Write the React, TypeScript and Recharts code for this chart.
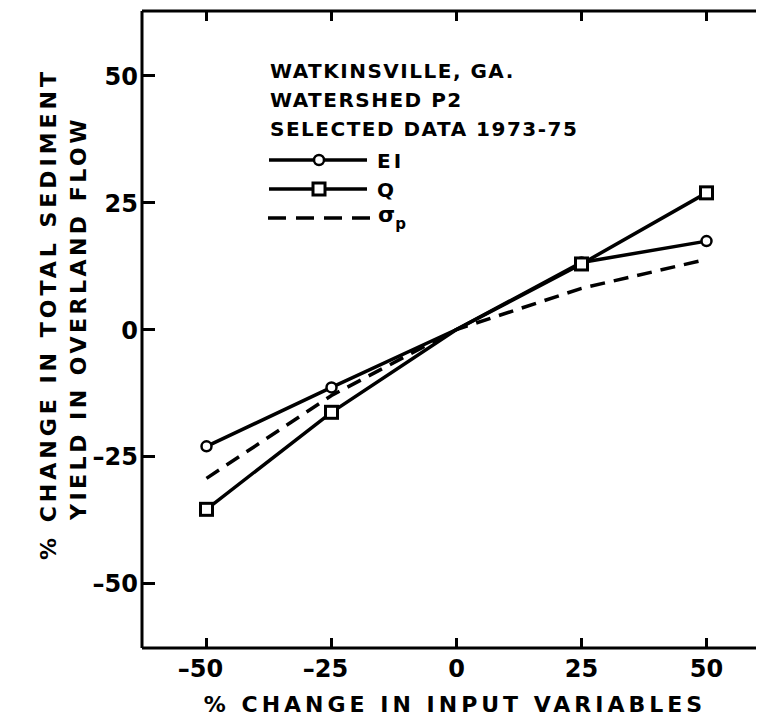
import { LineChart, Line, XAxis, YAxis } from "recharts";

const inputChange = [-50, -25, 0, 25, 50];
const eiChange = [-23, -11.4, 0, 13.2, 17.4];
const qChange = [-35.4, -16.3, 0, 12.9, 26.9];
const sigmaChange = [-29.3, -13, 0, 8.1, 13.8];
const axisTicks = [-50, -25, 0, 25, 50];

const siteLines = ["WATKINSVILLE, GA.", "WATERSHED P2", "SELECTED DATA 1973-75"];
const xTitle = "% CHANGE IN INPUT VARIABLES";
const yTitle = ["% CHANGE IN TOTAL SEDIMENT", "YIELD IN OVERLAND FLOW"];

const data = inputChange.map((x, i) => ({
  x,
  ei: eiChange[i],
  q: qChange[i],
  sigma: sigmaChange[i],
}));

const font = '"DejaVu Sans", sans-serif';
const ink = "#000";

const fmt = (v: number) => (v < 0 ? "\u2013" + Math.abs(v) : String(v));

const BottomTick = ({ x, y, payload }: any) => (
  <g>
    <path d={`M${x},${y}V${y - 10}`} stroke={ink} strokeWidth={3} />
    <text
      x={x + (payload.value < 0 ? -6 : 0)}
      y={y + 29}
      textAnchor="middle"
      fontSize={24}
      fontWeight="bold"
      fontFamily={font}
      fill={ink}
    >
      {fmt(payload.value)}
    </text>
  </g>
);

const LeftTick = ({ x, y, payload }: any) => (
  <g>
    <path d={`M${x},${y}H${x + 13}`} stroke={ink} strokeWidth={3} />
    <text
      x={x - 4}
      y={y + 9}
      textAnchor="end"
      fontSize={24}
      fontWeight="bold"
      fontFamily={font}
      fill={ink}
    >
      {fmt(payload.value)}
    </text>
  </g>
);

const TopTick = ({ x, y }: any) => (
  <path d={`M${x},${y}V${y + 10}`} stroke={ink} strokeWidth={3} />
);

// no marker at the origin, where all curves meet
const CircleDot = ({ cx, cy, index, payload }: any) =>
  payload.x === 0 ? (
    <g key={"ci" + index} />
  ) : (
    <circle key={"ci" + index} cx={cx} cy={cy} r={5} fill="#fff" stroke={ink} strokeWidth={2.5} />
  );

const SquareDot = ({ cx, cy, index, payload }: any) =>
  payload.x === 0 ? (
    <g key={"sq" + index} />
  ) : (
    <rect
      key={"sq" + index}
      x={cx - 6}
      y={cy - 6}
      width={12}
      height={12}
      fill="#fff"
      stroke={ink}
      strokeWidth={3}
    />
  );

const textStyle = { fontFamily: font, fontWeight: "bold" as const, fill: ink };

export default function App() {
  const axisLine = { stroke: ink, strokeWidth: 3 };
  return (
    <div style={{ position: "relative", width: 756, height: 715, marginBottom: -8, overflow: "hidden" }}>
      <LineChart
        width={756}
        height={700}
        data={data}
        margin={{ top: 2, right: 1, left: 0, bottom: 0 }}
      >
        <XAxis
          dataKey="x"
          type="number"
          domain={[-62.9, 61.3]}
          ticks={axisTicks}
          interval={0}
          allowDataOverflow
          height={60}
          axisLine={axisLine}
          tickLine={false}
          tickSize={0}
          tickMargin={0}
          tick={BottomTick}
        />
        <XAxis
          xAxisId="top"
          orientation="top"
          dataKey="x"
          type="number"
          domain={[-62.9, 61.3]}
          ticks={axisTicks}
          interval={0}
          allowDataOverflow
          height={1}
          axisLine={axisLine}
          tickLine={false}
          tickSize={0}
          tickMargin={0}
          tick={TopTick}
        />
        <YAxis
          type="number"
          domain={[-62.7, 62.7]}
          ticks={axisTicks}
          interval={0}
          allowDataOverflow
          width={134}
          axisLine={axisLine}
          tickLine={false}
          tickSize={0}
          tickMargin={0}
          tick={LeftTick}
        />
        {/* invisible series so the top frame axis gets a scale */}
        <Line
          xAxisId="top"
          dataKey="sigma"
          stroke="none"
          dot={false}
          activeDot={false}
          isAnimationActive={false}
        />
        <Line
          dataKey="sigma"
          type="linear"
          stroke={ink}
          strokeWidth={3.5}
          strokeDasharray="15 9"
          dot={false}
          activeDot={false}
          isAnimationActive={false}
        />
        <Line
          dataKey="ei"
          type="linear"
          stroke={ink}
          strokeWidth={3.5}
          dot={CircleDot}
          activeDot={false}
          isAnimationActive={false}
        />
        <Line
          dataKey="q"
          type="linear"
          stroke={ink}
          strokeWidth={3.5}
          dot={SquareDot}
          activeDot={false}
          isAnimationActive={false}
        />
      </LineChart>

      <svg
        width={756}
        height={715}
        style={{ position: "absolute", left: 0, top: 0, pointerEvents: "none" }}
      >
        <g transform="translate(-8,-8)">
          {siteLines.map((t, i) => (
            <text key={t} x={270} y={78 + i * 29} fontSize={20} letterSpacing={1.5} {...textStyle}>
              {t}
            </text>
          ))}

          {/* legend */}
          <line x1={269} y1={160} x2={367} y2={160} stroke={ink} strokeWidth={3.5} />
          <circle cx={319} cy={160} r={5} fill="#fff" stroke={ink} strokeWidth={2.5} />
          <text x={377} y={168} fontSize={20} letterSpacing={3} {...textStyle}>EI</text>

          <line x1={269} y1={189} x2={367} y2={189} stroke={ink} strokeWidth={3.5} />
          <rect x={313} y={183} width={12} height={12} fill="#fff" stroke={ink} strokeWidth={3} />
          <text x={377} y={197} fontSize={20} {...textStyle}>Q</text>

          <line x1={268} y1={218} x2={370} y2={218} stroke={ink} strokeWidth={3.5} strokeDasharray="18 10" />
          <text x={378} y={222} fontSize={22} {...textStyle}>
            σ
            <tspan dy={7} fontSize={15}>p</tspan>
          </text>

          {/* axis titles */}
          <text x={455} y={712} textAnchor="middle" fontSize={22} letterSpacing={4} {...textStyle}>
            {xTitle}
          </text>
          <text transform="translate(56,314) rotate(-90)" textAnchor="middle" fontSize={22} letterSpacing={4} {...textStyle}>
            {yTitle[0]}
          </text>
          <text transform="translate(86,318) rotate(-90)" textAnchor="middle" fontSize={22} letterSpacing={3.5} {...textStyle}>
            {yTitle[1]}
          </text>
        </g>
      </svg>
    </div>
  );
}
